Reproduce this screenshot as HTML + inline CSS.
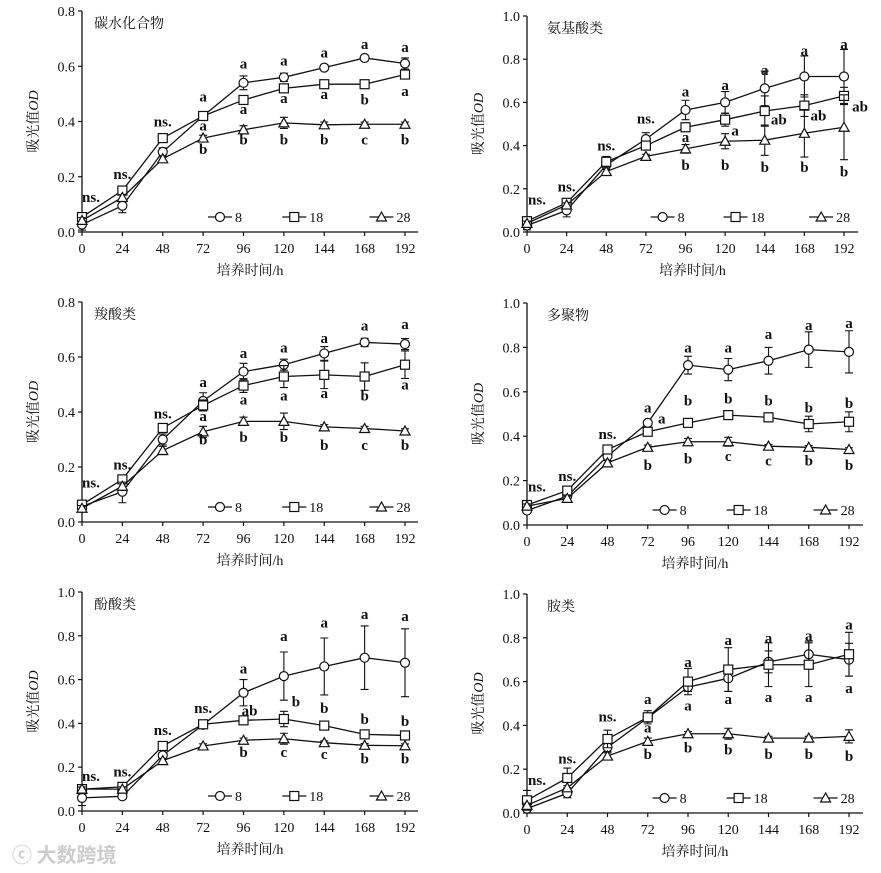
<!DOCTYPE html>
<html><head><meta charset="utf-8">
<style>
html,body{margin:0;padding:0;background:#fff;}
svg{display:block;}
text{fill:#111;}
.tick{font-family:"Liberation Serif","Noto Serif CJK SC",serif;font-size:14px;}
.ann{font-family:"Liberation Serif",serif;font-size:15px;font-weight:bold;}
.cjk{font-family:"Liberation Serif","Noto Serif CJK SC",serif;font-size:14px;}
</style></head>
<body>
<svg id="fig" width="881" height="873" viewBox="0 0 881 873" xmlns="http://www.w3.org/2000/svg">
<text x="12" y="862" style="font-family:'Noto Sans CJK SC',sans-serif;font-size:20px;fill:#ccc;font-weight:bold">ⓒ 大数跨境</text>
</svg>
<script>
const times = [0,24,48,72,96,120,144,168,192];
const legendLabels = ["8","18","28"];
const titles = ["碳水化合物","氨基酸类","羧酸类","多聚物","酚酸类","胺类"];
const yMaxes = [0.8,1.0,0.8,1.0,1.0,1.0];

const p1_s8  = [0.027,0.095,0.29,0.42,0.54,0.56,0.595,0.63,0.61];
const p1_s18 = [0.054,0.15,0.34,0.42,0.478,0.52,0.535,0.535,0.57];
const p1_s28 = [0.042,0.125,0.265,0.34,0.37,0.395,0.388,0.39,0.39];
const p1_e8  = [0.02,0.025,0.015,0.015,0.025,0.015,0.01,0.008,0.02];
const p1_e18 = [0.01,0.01,0.01,0.01,0.01,0.015,0.01,0.01,0.015];
const p1_e28 = [0.01,0.01,0.01,0.01,0.015,0.02,0.01,0.008,0.008];
const p1_ann = [[0,0.127,"ns.",9],[1,0.21,"ns."],[2,0.4,"ns."],[3,0.49,"a"],[3,0.385,"a"],[3,0.30,"b"],[4,0.61,"a"],[4,0.445,"a"],[4,0.335,"b"],[5,0.62,"a"],[5,0.485,"a"],[5,0.335,"b"],[6,0.65,"a"],[6,0.5,"a"],[6,0.335,"b"],[7,0.68,"a"],[7,0.48,"b"],[7,0.335,"c"],[8,0.67,"a"],[8,0.51,"a"],[8,0.335,"b"]];

const p2_s8  = [0.03,0.10,0.31,0.43,0.565,0.60,0.665,0.72,0.72];
const p2_s18 = [0.05,0.135,0.325,0.40,0.485,0.52,0.56,0.585,0.63];
const p2_s28 = [0.04,0.125,0.28,0.35,0.385,0.42,0.425,0.457,0.485];
const p2_e8  = [0.02,0.03,0.02,0.03,0.045,0.05,0.08,0.095,0.125];
const p2_e18 = [0.02,0.02,0.025,0.02,0.02,0.03,0.07,0.05,0.04];
const p2_e28 = [0.01,0.01,0.01,0.01,0.02,0.035,0.07,0.11,0.15];
const p2_ann = [[0,0.15,"ns.",10],[1,0.21,"ns."],[2,0.4,"ns."],[3,0.526,"ns."],[4,0.65,"a"],[4,0.44,"a"],[4,0.31,"b"],[5,0.68,"a"],[5,0.47,"a",10],[5,0.31,"b"],[6,0.75,"a"],[6,0.52,"ab",14],[6,0.30,"b"],[7,0.84,"a"],[7,0.54,"ab",14],[7,0.30,"b"],[8,0.87,"a"],[8,0.58,"ab",16],[8,0.28,"b"]];

const p3_s8  = [0.057,0.11,0.30,0.44,0.547,0.572,0.613,0.653,0.647];
const p3_s18 = [0.063,0.155,0.342,0.424,0.496,0.529,0.535,0.529,0.572];
const p3_s28 = [0.05,0.13,0.26,0.328,0.366,0.366,0.346,0.34,0.331];
const p3_e8  = [0.02,0.04,0.02,0.03,0.03,0.02,0.025,0.015,0.02];
const p3_e18 = [0.01,0.01,0.01,0.02,0.025,0.04,0.05,0.05,0.05];
const p3_e28 = [0.01,0.015,0.015,0.02,0.015,0.03,0.008,0.008,0.008];
const p3_ann = [[0,0.143,"ns.",9],[1,0.21,"ns."],[2,0.395,"ns."],[3,0.51,"a"],[3,0.385,"a"],[3,0.30,"b"],[4,0.615,"a"],[4,0.445,"a"],[4,0.31,"b"],[5,0.635,"a"],[5,0.46,"a"],[5,0.31,"b"],[6,0.67,"a"],[6,0.47,"a"],[6,0.28,"b"],[7,0.715,"a"],[7,0.46,"b"],[7,0.28,"c"],[8,0.72,"a"],[8,0.5,"a"],[8,0.28,"b"]];

const p4_s8  = [0.065,0.13,0.31,0.46,0.72,0.70,0.74,0.79,0.78];
const p4_s18 = [0.09,0.155,0.34,0.42,0.46,0.495,0.485,0.455,0.465];
const p4_s28 = [0.085,0.12,0.28,0.35,0.375,0.375,0.355,0.35,0.34];
const p4_e8  = [0.01,0.01,0.01,0.01,0.04,0.05,0.06,0.08,0.095];
const p4_e18 = [0.01,0.01,0.01,0.01,0.01,0.015,0.02,0.035,0.045];
const p4_e28 = [0.01,0.01,0.01,0.01,0.015,0.02,0.008,0.008,0.008];
const p4_ann = [[0,0.173,"ns.",10],[1,0.22,"ns."],[2,0.41,"ns."],[3,0.53,"a"],[3,0.48,"a",14],[3,0.27,"b"],[4,0.80,"a"],[4,0.56,"b"],[4,0.30,"b"],[5,0.80,"a"],[5,0.57,"b"],[5,0.31,"c"],[6,0.86,"a"],[6,0.56,"b"],[6,0.29,"c"],[7,0.90,"a"],[7,0.53,"b"],[7,0.29,"b"],[8,0.91,"a"],[8,0.55,"b"],[8,0.27,"b"]];

const p5_s8  = [0.06,0.067,0.254,0.394,0.54,0.616,0.66,0.70,0.677];
const p5_s18 = [0.10,0.11,0.297,0.396,0.414,0.42,0.39,0.35,0.345];
const p5_s28 = [0.10,0.10,0.23,0.297,0.323,0.33,0.312,0.30,0.298];
const p5_e8  = [0.035,0.01,0.01,0.01,0.06,0.11,0.13,0.145,0.155];
const p5_e18 = [0.01,0.01,0.01,0.01,0.01,0.035,0.01,0.01,0.01];
const p5_e28 = [0.01,0.01,0.01,0.01,0.01,0.025,0.008,0.008,0.008];
const p5_ann = [[0,0.16,"ns.",9],[1,0.18,"ns."],[2,0.37,"ns."],[3,0.47,"ns."],[4,0.65,"a"],[4,0.46,"ab",6],[4,0.27,"b"],[5,0.80,"a"],[5,0.50,"b",12],[5,0.27,"c"],[6,0.86,"a"],[6,0.47,"b"],[6,0.26,"c"],[7,0.90,"a"],[7,0.42,"b"],[7,0.24,"b"],[8,0.89,"a"],[8,0.41,"b"],[8,0.24,"b"]];

const p6_s8  = [0.02,0.09,0.30,0.435,0.575,0.615,0.69,0.725,0.70];
const p6_s18 = [0.058,0.16,0.338,0.437,0.60,0.655,0.677,0.677,0.725];
const p6_s28 = [0.035,0.115,0.26,0.327,0.362,0.362,0.342,0.342,0.35];
const p6_e8  = [0.02,0.02,0.02,0.02,0.02,0.06,0.05,0.06,0.075];
const p6_e18 = [0.045,0.045,0.04,0.03,0.06,0.10,0.10,0.10,0.10];
const p6_e28 = [0.01,0.01,0.015,0.015,0.01,0.025,0.008,0.008,0.03];
const p6_ann = [[0,0.15,"ns.",10],[1,0.25,"ns."],[2,0.44,"ns."],[3,0.52,"a"],[3,0.39,"a"],[3,0.27,"b"],[4,0.69,"a"],[4,0.49,"a"],[4,0.30,"b"],[5,0.79,"a"],[5,0.52,"a"],[5,0.29,"b"],[6,0.80,"a"],[6,0.53,"a"],[6,0.27,"b"],[7,0.81,"a"],[7,0.53,"a"],[7,0.27,"b"],[8,0.86,"a"],[8,0.57,"a"],[8,0.26,"b"]];

const series = [[p1_s8,p1_s18,p1_s28],[p2_s8,p2_s18,p2_s28],[p3_s8,p3_s18,p3_s28],[p4_s8,p4_s18,p4_s28],[p5_s8,p5_s18,p5_s28],[p6_s8,p6_s18,p6_s28]];
const errs = [[p1_e8,p1_e18,p1_e28],[p2_e8,p2_e18,p2_e28],[p3_e8,p3_e18,p3_e28],[p4_e8,p4_e18,p4_e28],[p5_e8,p5_e18,p5_e28],[p6_e8,p6_e18,p6_e28]];
const anns = [p1_ann,p2_ann,p3_ann,p4_ann,p5_ann,p6_ann];

const geo = [[82,405,232,11,418],[527,844,232,16,858],[82,405,522,302,418],[527,849,525,303,863],[82,405,811,592,418],[527,849,813,594,863]];

const NS="http://www.w3.org/2000/svg";
const svg=document.getElementById('fig');
function mk(tag,attrs,parent){const e=document.createElementNS(NS,tag);for(const k in attrs)e.setAttribute(k,attrs[k]);(parent||svg).appendChild(e);return e;}

function marker(g,k,x,y){
  let m;
  if(k===0){m=mk('circle',{cx:x,cy:y,r:4.5,fill:'#fff',stroke:'#111','stroke-width':1.2},g);}
  else if(k===1){m=mk('rect',{x:x-4.5,y:y-4.5,width:9,height:9,fill:'#fff',stroke:'#111','stroke-width':1.2},g);}
  else{m=mk('polygon',{points:`${x},${y-5} ${x-5},${y+4} ${x+5},${y+4}`,fill:'#fff',stroke:'#111','stroke-width':1.2},g);}
  return m;
}

for(let p=0;p<6;p++){
  const [x0,x1,y0,yt,xr]=geo[p];
  const ymax=yMaxes[p];
  const X=t=>x0+(t/192)*(x1-x0);
  const Y=v=>y0-(v/ymax)*(y0-yt);
  const g=mk('g',{});
  
  
  const ax=mk('path',{d:`M${x0},${yt} V${y0} H${xr}`,stroke:'#111','stroke-width':1.3,fill:'none'},g);
  
  
  const step=0.2;
  for(let v=0;v<=ymax+1e-9;v+=step){
    mk('line',{x1:x0-4,x2:x0,y1:Y(v),y2:Y(v),stroke:'#111','stroke-width':1.2},g);
    const t=mk('text',{x:x0-7,y:Y(v)+5,'text-anchor':'end',class:'tick'},g);
    t.textContent=v.toFixed(1);
    
    
  }
  times.forEach(tm=>{
    mk('line',{x1:X(tm),x2:X(tm),y1:y0,y2:y0+4,stroke:'#111','stroke-width':1.2},g);
    const t=mk('text',{x:X(tm),y:y0+21,'text-anchor':'middle',class:'tick'},g);
    t.textContent=tm;
    
    
  });
  const xt=mk('text',{x:(x0+xr)/2,y:y0+43,'text-anchor':'middle',class:'cjk'},g);
  xt.textContent='培养时间/h';
  
  
  const ycx=x0-44, ycy=(y0+yt)/2;
  const yt2=mk('text',{x:ycx,y:ycy,'text-anchor':'middle',class:'cjk',transform:`rotate(-90 ${ycx} ${ycy})`},g);
  yt2.innerHTML='吸光值<tspan font-style="italic">OD</tspan>';
  
  
  const tt=mk('text',{x:x0+(p%2?20:12),y:yt+17,class:'cjk'},g);
  tt.textContent=titles[p];
  
  
  for(let k=0;k<3;k++){
    const s=series[p][k], e=errs[p][k];
    const sg=mk('g',{},g);
    
    
    mk('polyline',{points:s.map((v,i)=>X(times[i])+','+Y(v)).join(' '),fill:'none',stroke:'#111','stroke-width':1.3},sg);
    s.forEach((v,i)=>{
      const x=X(times[i]);
      mk('path',{d:`M${x},${Y(v-e[i])} V${Y(v+e[i])} M${x-4},${Y(v-e[i])} h8 M${x-4},${Y(v+e[i])} h8`,stroke:'#111','stroke-width':1.1,fill:'none'},sg);
    });
    s.forEach((v,i)=>{
      const m=marker(sg,k,X(times[i]),Y(v));
      
      
    });
  }
  anns[p].forEach(a=>{
    const t=mk('text',{x:X(times[a[0]])+(a[3]||0),y:Y(a[1])+5,'text-anchor':'middle',class:'ann'},g);
    t.textContent=a[2];
    
    
  });
  const ly=y0-15, W=x1-x0;
  const lf=[0.39,0.62,0.89];
  for(let k=0;k<3;k++){
    const lx=x0+lf[k]*W;
    const lg=mk('g',{},g);
    
    
    mk('line',{x1:lx,x2:lx+24,y1:ly,y2:ly,stroke:'#111','stroke-width':1.3},lg);
    marker(lg,k,lx+12,ly);
    const t=mk('text',{x:lx+27,y:ly+5,class:'tick'},lg);
    t.textContent=legendLabels[k];
  }
}
</script>
</body></html>
